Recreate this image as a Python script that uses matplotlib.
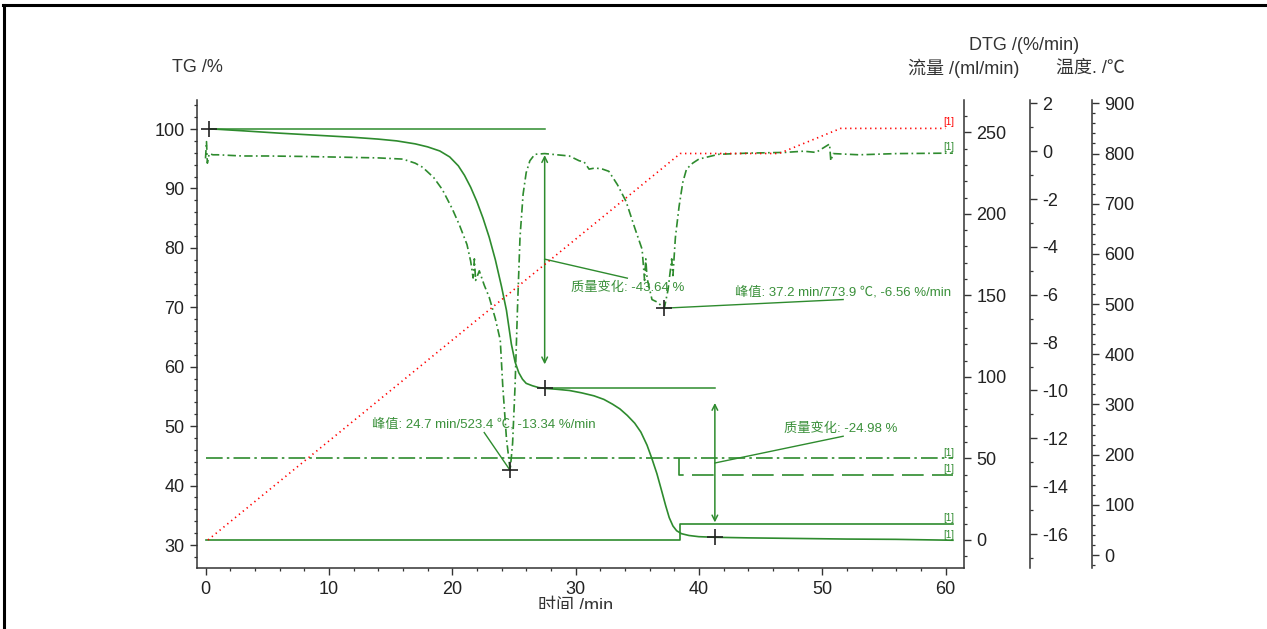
import numpy as np
import matplotlib.pyplot as plt
from matplotlib.ticker import MultipleLocator
from matplotlib.lines import Line2D
from matplotlib.transforms import Bbox

plt.rcParams['font.family'] = ['Liberation Sans', 'Noto Sans CJK SC', 'DejaVu Sans']
plt.rcParams['axes.unicode_minus'] = False

# TG curve (time /min, mass /%)
tg_time = [0.3, 1, 3, 6, 9, 12, 14, 15.5, 17, 18, 19, 19.8, 20.5, 21, 21.5, 22, 22.5, 23,
           23.5, 24, 24.4, 24.8, 25.1, 25.4, 25.7, 26, 26.5, 27, 27.5, 28.5, 29.5, 30.5,
           31.5, 32.3, 33, 33.6, 34.2, 34.8, 35.3, 35.8, 36.2, 36.6, 37.0, 37.3, 37.6,
           37.9, 38.2, 38.6, 39.2, 40, 41.3, 44, 48, 52, 56, 60.6]
tg_vals = [100.0, 99.95, 99.7, 99.3, 98.95, 98.6, 98.3, 98.0, 97.5, 97.0, 96.3, 95.3,
           93.8, 92.2, 90.2, 87.8, 85.0, 81.8, 78.0, 73.5, 69.5, 63.8, 60.8, 59.0, 57.9,
           57.2, 56.8, 56.5, 56.36, 56.2, 56.0, 55.6, 55.1, 54.5, 53.7, 52.9, 51.8, 50.5,
           49.0, 46.8, 44.5, 42.0, 39.0, 36.7, 34.6, 33.2, 32.4, 31.9, 31.6, 31.4, 31.3,
           31.2, 31.1, 31.0, 30.95, 30.8]

# DTG curve (time /min, %/min)
dtg_time = [0.0, 0.08, 0.15, 0.3, 0.6, 1, 3, 5, 8, 11, 14, 16, 17, 17.6, 18.5, 19.2, 20,
            20.6, 21.2, 21.5, 21.7, 21.8, 21.9, 22.2, 22.6, 23.0, 23.5, 23.9, 24.1, 24.4,
            24.7, 24.9, 25.1, 25.3, 25.5, 25.75, 26, 26.3, 26.7, 27.5, 28.5, 29.5, 30.3,
            30.7, 31.1, 31.6, 32.2, 32.7, 33.4, 34.1, 34.8, 35.4, 35.6, 35.7, 35.8, 36.2,
            36.6, 37.2, 37.5, 37.8, 37.9, 38.1, 38.4, 38.7, 39, 39.5, 40, 41.6, 44, 47,
            48.5, 49.5, 50.6, 50.7, 50.9, 53, 56, 60.6]
dtg_vals = [-0.3, 0.4, -0.5, -0.1, -0.15, -0.15, -0.2, -0.2, -0.22, -0.25, -0.28, -0.33,
            -0.5, -0.67, -1.1, -1.6, -2.4, -3.1, -3.9, -4.6, -5.3, -4.5, -5.4, -5.0, -5.6,
            -6.1, -7.0, -7.9, -9.8, -12.0, -13.34, -12.2, -9.8, -6.5, -3.6, -1.8, -0.9,
            -0.4, -0.13, -0.1, -0.15, -0.2, -0.4, -0.45, -0.75, -0.7, -0.75, -0.84, -1.4,
            -2.1, -3.2, -4.1, -5.4, -4.5, -5.3, -6.2, -6.3, -6.56, -5.8, -4.5, -5.2, -3.6,
            -2.3, -1.3, -0.75, -0.5, -0.33, -0.13, -0.08, -0.05, 0.0, -0.05, 0.3, -0.4,
            -0.1, -0.15, -0.1, -0.08]

# temperature program
temp_time = [0.2, 38.5, 46.5, 51.5, 60.0]
temp_vals = [30, 800, 800, 850, 850]

# gas flows
flow1_time = [0.0, 60.6]
flow1_vals = [50, 50]
flow2_time = [38.4, 38.4, 60.6]
flow2_vals = [50, 40, 40]
flow3_time = [0.0, 38.5, 38.5, 60.6]
flow3_vals = [0, 0, 10, 10]

green = '#2e8b2e'
txt_green = '#3a903a'
W, H = 1267, 629


def fx(px):
    return px / W


def fy(py):
    return 1 - py / H


fig = plt.figure(figsize=(W / 100, H / 100), dpi=100)
ax = fig.add_axes([fx(197), fy(568), fx(964) - fx(197), fy(100) - fy(568)])
ax_flow = ax.twinx()
ax_dtg = ax.twinx()
ax_t = ax.twinx()

ax.set_xlim(-0.69, 61.5)
ax.set_ylim(26.13, 104.88)
ax_flow.set_ylim(-17.2, 269.8)
ax_dtg.set_ylim(-17.42, 2.14)
ax_t.set_ylim(-25.9, 906.6)

spine_c = '#333333'
for a in (ax, ax_flow, ax_dtg, ax_t):
    for s in a.spines.values():
        s.set_visible(False)
        s.set_color(spine_c)
        s.set_linewidth(1.1)
ax.spines['left'].set_visible(True)
ax.spines['bottom'].set_visible(True)
ax_flow.spines['right'].set_visible(True)
ax_dtg.spines['right'].set_visible(True)
ax_dtg.spines['right'].set_position(('axes', 1.086))
ax_t.spines['right'].set_visible(True)
ax_t.spines['right'].set_position(('axes', 1.167))

ax.xaxis.set_major_locator(MultipleLocator(10))
ax.xaxis.set_minor_locator(MultipleLocator(2))
ax.yaxis.set_major_locator(MultipleLocator(10))
ax.yaxis.set_minor_locator(MultipleLocator(2))
ax_flow.yaxis.set_major_locator(MultipleLocator(50))
ax_flow.yaxis.set_minor_locator(MultipleLocator(10))
ax_dtg.yaxis.set_major_locator(MultipleLocator(2))
ax_dtg.yaxis.set_minor_locator(MultipleLocator(1))
ax_t.yaxis.set_major_locator(MultipleLocator(100))
ax_t.yaxis.set_minor_locator(MultipleLocator(20))

for a in (ax, ax_flow, ax_dtg, ax_t):
    a.tick_params(which='major', length=5, width=1.0, color=spine_c,
                  labelsize=13, labelcolor='#222222', pad=4)
    a.tick_params(which='minor', length=2.5, width=0.9, color=spine_c)
ax.tick_params(axis='x', which='both', top=False)

# curves
ax.plot(tg_time, tg_vals, color=green, lw=1.2)
ax_dtg.plot(dtg_time, dtg_vals, color=green, lw=1.2, dashes=(5, 2, 1, 2))
ax_t.plot(temp_time, temp_vals, color='#ff0000', lw=1.2, linestyle=(0, (0.8, 2.2)))
ax_flow.plot(flow1_time, flow1_vals, color=green, lw=1.2, dashes=(10, 2.5, 1.5, 2.5))
ax_flow.plot(flow2_time, flow2_vals, color=green, lw=1.2, dashes=(13, 5))
ax_flow.plot(flow3_time, flow3_vals, color=green, lw=1.2)

# end labels
lab_kw = dict(fontsize=7, ha='right', va='bottom')
ax_t.text(60.7, 852, '[1]', color='#ff0000', **lab_kw)
ax_dtg.text(60.7, -0.05, '[1]', color=green, **lab_kw)
ax_flow.text(60.7, 50.5, '[1]', color=green, **lab_kw)
ax_flow.text(60.7, 40.5, '[1]', color=green, **lab_kw)
ax_flow.text(60.7, 10.5, '[1]', color=green, **lab_kw)
ax.text(60.7, 30.9, '[1]', color=green, **lab_kw)

# mass change step 1
mk = dict(marker='+', markersize=11, mew=1.2, color='#222222', ls='none', zorder=5)
ax.plot([0.3, 27.5], [100, 100], color=green, lw=1.1)
ax.plot([0.3], [100], **mk)
ax.plot([27.5, 41.3], [56.36, 56.36], color=green, lw=1.1)
ax.plot([27.5], [56.36], **mk)
ax.annotate('', xy=(27.5, 60.4), xytext=(27.5, 95.6),
            arrowprops=dict(arrowstyle='<->', color=green, lw=1.1,
                            shrinkA=0, shrinkB=0, mutation_scale=10))
ax.plot([27.5, 34.2], [78.1, 74.9], color=green, lw=1.0)
ax.text(34.2, 73.3, '质量变化: -43.64 %', color=txt_green, fontsize=9.5,
        ha='center', va='center')

# mass change step 2
ax.annotate('', xy=(41.3, 33.8), xytext=(41.3, 53.9),
            arrowprops=dict(arrowstyle='<->', color=green, lw=1.1,
                            shrinkA=0, shrinkB=0, mutation_scale=10))
ax.plot([41.3], [31.38], **mk)
ax.plot([41.3, 51.7], [43.8, 48.3], color=green, lw=1.0)
ax.text(51.5, 49.5, '质量变化: -24.98 %', color=txt_green, fontsize=9.5,
        ha='center', va='center')

# DTG peaks
ax_dtg.plot([24.7], [-13.34], **mk)
ax_dtg.plot([24.7, 22.6], [-13.34, -11.76], color=green, lw=1.0)
ax_dtg.text(22.6, -11.4, '峰值: 24.7 min/523.4 ℃, -13.34 %/min', color=txt_green,
            fontsize=9.5, ha='center', va='center')
ax_dtg.plot([37.2], [-6.56], **mk)
ax_dtg.plot([37.2, 51.7], [-6.56, -6.2], color=green, lw=1.0)
ax_dtg.text(51.7, -5.88, '峰值: 37.2 min/773.9 ℃, -6.56 %/min', color=txt_green,
            fontsize=9.5, ha='center', va='center')

# axis titles
lab = dict(fontsize=13, color='#333333', ha='center', va='center')
fig.text(fx(197), fy(68), 'TG /%', **lab)
fig.text(fx(1024), fy(45), 'DTG /(%/min)', **lab)
fig.text(fx(964), fy(68), '流量 /(ml/min)', **lab)
fig.text(fx(1090), fy(68), '温度. /℃', **lab)
xl = fig.text(fx(576), fy(606), '时间 /min', **lab)
xl.set_clip_box(Bbox.from_extents(0, H - 609, W, H))
xl.set_clip_on(True)

# page frame
fig.add_artist(Line2D([fx(3), 1.0], [fy(5), fy(5)], transform=fig.transFigure,
                      color='black', lw=2.2))
fig.add_artist(Line2D([fx(4), fx(4)], [fy(5), 0.0], transform=fig.transFigure,
                      color='black', lw=2.2))

fig.savefig('out.png', dpi=100)
